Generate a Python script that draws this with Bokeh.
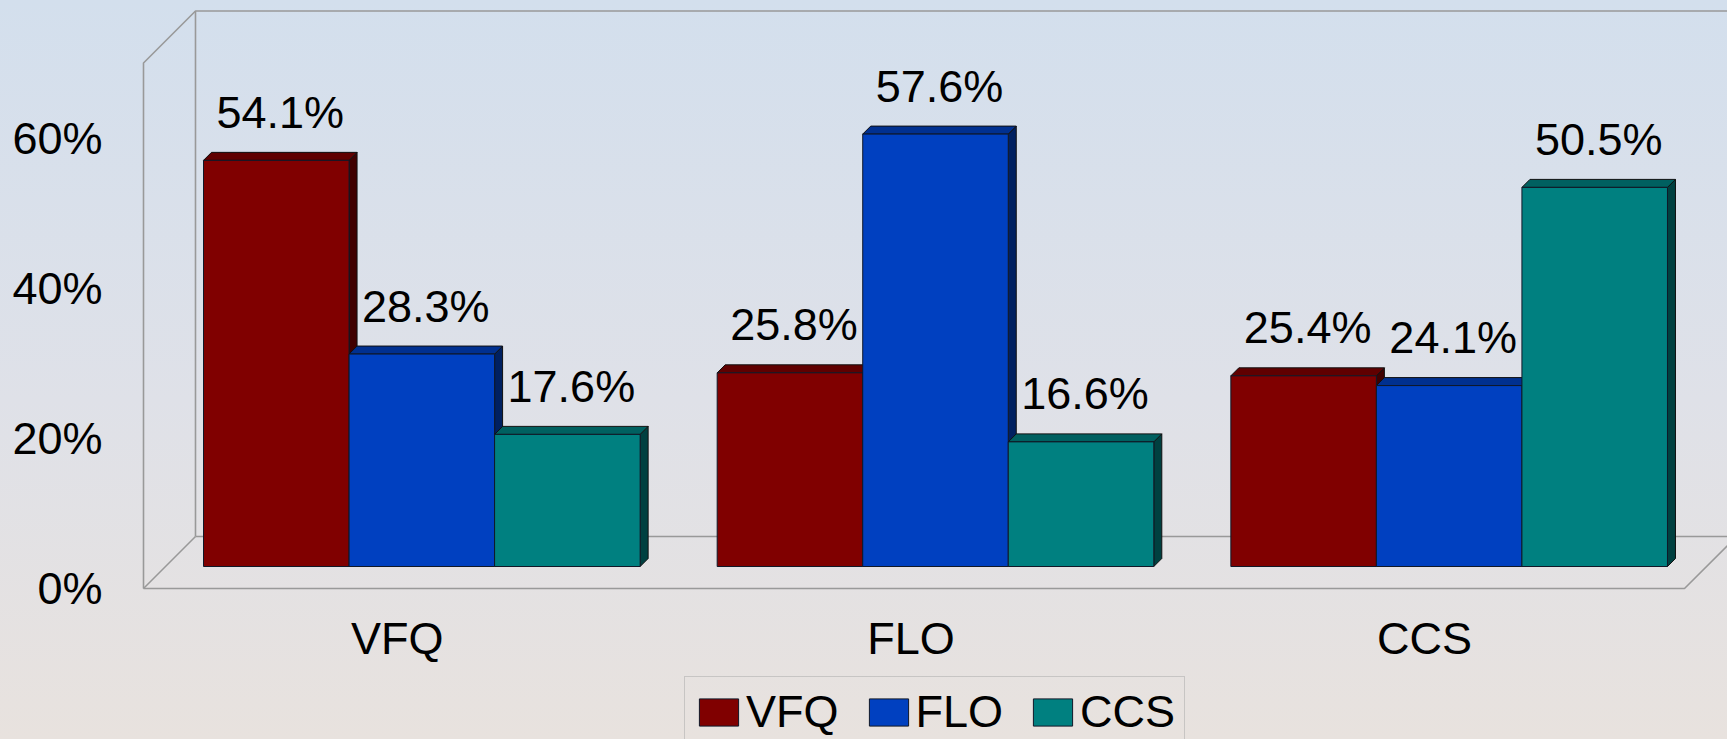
from bokeh.plotting import figure
from bokeh.embed import file_html
from bokeh.resources import INLINE
from bokeh.core.properties import value
from bokeh.models import (Range1d, FixedTicker, PrintfTickFormatter, Legend,
                          LegendItem, ColumnDataSource)

categories = ["VFQ", "FLO", "CCS"]
series_names = ["VFQ", "FLO", "CCS"]
vfq_values = [54.1, 25.8, 25.4]
flo_values = [28.3, 57.6, 24.1]
ccs_values = [17.6, 16.6, 50.5]
y_ticks = [0, 20, 40, 60]

front_colors = ["#800000", "#0040C0", "#008080"]
top_colors = ["#600000", "#003090", "#006060"]
side_colors = ["#400000", "#002060", "#004040"]
FONT = "Liberation Sans"
FS = "45px"

XU = 513.67       # px per category
YU = 7.507        # px per percent
W, H = 1727, 739
LEFT = 133                   # frame left edge in page px
PLANE_L, PLANE_B = 143, 588  # front plane of the box
WALL = 52; BAR_Z = 22; BAR_D = 8
AXIS_TOP = 70.0
RIGHT_CATS = 3.0

dx = lambda px: px / XU
dy = lambda px: px / YU

p = figure(
    frame_width=W - LEFT, frame_height=H,
    min_border_left=LEFT, min_border_right=0, min_border_top=0, min_border_bottom=0,
    x_range=Range1d(dx(LEFT - PLANE_L), dx(W - PLANE_L)),
    y_range=Range1d(dy(PLANE_B - H), dy(PLANE_B)),
    toolbar_location=None, output_backend="svg",
    background_fill_alpha=0, border_fill_alpha=0, outline_line_alpha=0,
)
p.styles = {
    "background": "linear-gradient(to bottom, #D3DFED 0px, #DFE1E8 400px, #E8E2DE 739px)",
}
p.grid.visible = False

# Box walls
w, h = dx(WALL), dy(WALL)
wall_color = "#999999"
xs = [[0, 0, w, RIGHT_CATS + w], [w, w], [0, w], [0, RIGHT_CATS, RIGHT_CATS + w], [w, RIGHT_CATS + w]]
ys = [[0, AXIS_TOP, AXIS_TOP + h, AXIS_TOP + h], [h, AXIS_TOP + h], [0, h], [0, 0, h], [h, h]]
p.multi_line(xs, ys, line_color=wall_color, line_width=1.6)

# Bars, left to right so that each bar overlaps the side of the previous one
zx, zy, bx, by = dx(BAR_Z), dy(BAR_Z), dx(BAR_D), dy(BAR_D)
bar_w = 0.85 / 3
gap = 0.074
all_values = [vfq_values, flo_values, ccs_values]
legend_renderers = {}
lx, ly, lt = [], [], []
for i in range(len(categories)):
    for j, vals in enumerate(all_values):
        v = vals[i]
        l = i + gap + j * bar_w + zx
        r = l + bar_w
        t = v + zy
        p.patch([r, r + bx, r + bx, r], [zy, zy + by, t + by, t],
                fill_color=side_colors[j], line_color="#101010", line_width=1)
        p.patch([l, l + bx, r + bx, r], [t, t + by, t + by, t],
                fill_color=top_colors[j], line_color="#101010", line_width=1)
        ren = p.vbar(x=[(l + r) / 2], width=bar_w, bottom=zy, top=[t],
                     fill_color=front_colors[j], line_color="#101828", line_width=1)
        legend_renderers.setdefault(j, ren)
        lx.append((l + r) / 2 + bx / 2)
        ly.append(t + by)
        lt.append(f"{v}%")

p.text(x="x", y="y", text="t", source=ColumnDataSource(dict(x=lx, y=ly, t=lt)),
       text_font=value(FONT), text_font_size=value(FS), text_color="#000000",
       text_align="center", text_baseline="alphabetic", y_offset=-40)

# Axes
xa = p.xaxis[0]
tick_pos = [i + 0.5 - 0.006 for i in range(len(categories))]
xa.ticker = FixedTicker(ticks=tick_pos)
xa.major_label_overrides = {t: c for t, c in zip(tick_pos, categories)}
xa.fixed_location = 0
ya = p.yaxis[0]
ya.ticker = FixedTicker(ticks=y_ticks)
ya.formatter = PrintfTickFormatter(format="%d%%")
for a in (xa, ya):
    a.axis_line_color = None
    a.major_tick_line_color = None
    a.minor_tick_line_color = None
    a.major_label_text_font = FONT
    a.major_label_text_font_size = FS
    a.major_label_text_color = "#000000"
xa.major_label_standoff = 18
ya.major_label_standoff = 25

# Legend
legend = Legend(
    items=[LegendItem(label=n, renderers=[legend_renderers[j]]) for j, n in enumerate(series_names)],
    orientation="horizontal", location=(684 - LEFT, -9),
    glyph_width=49, glyph_height=34, label_standoff=3, spacing=25,
    padding=9, margin=0,
    label_text_font=FONT, label_text_font_size=FS, label_text_color="#000000",
    border_line_color="#A8A8A8", border_line_width=1.5,
    background_fill_alpha=0,
)
p.add_layout(legend, "center")

open("out.html", "w").write(file_html(p, INLINE))
